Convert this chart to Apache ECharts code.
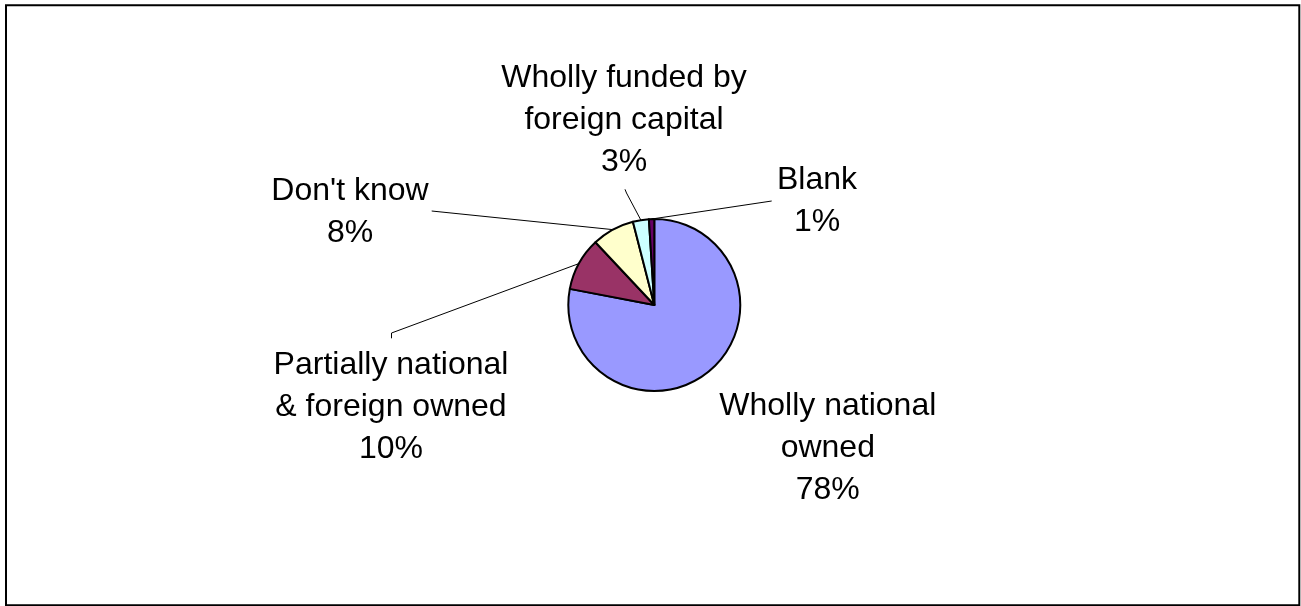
<!DOCTYPE html>
<html>
<head>
<meta charset="utf-8">
<title>Ownership of enterprises</title>
<script src="https://cdn.jsdelivr.net/npm/echarts@6/dist/echarts.min.js"></script>
<style>
  html, body { margin: 0; padding: 0; background: #ffffff; }
  #chart { width: 1301px; height: 606px; }
</style>
</head>
<body>
<div id="chart"></div>
<script>
// Ownership categories (line breaks are how the labels wrap)
const categories = [
  'Wholly national\nowned',
  'Partially national\n& foreign owned',
  "Don't know",
  'Wholly funded by\nforeign capital',
  'Blank'
];
// Share of respondents, in percent
const shares = [78, 10, 8, 3, 1];
const sliceColors = ['#9999FF', '#993366', '#FFFFCC', '#CCFFFF', '#660066'];

// Pie geometry (pixels)
const CX = 654.3, CY = 305, R = 86;

// Where each label block sits, relative to the pie centre,
// and the bend points of its leader line (last point = label end)
const labelPlacement = [
  { at: [173.5, 143.5], line: null },
  { at: [-263.3, 102.5], line: [[-262.8, 28], [-262.8, 33.3]] },
  { at: [-304.3, -93.3], line: [[-222.6, -94]] },
  { at: [-30.3, -185], line: [[-27.8, -112], [-29.3, -115.7]] },
  { at: [162.7, -104], line: [[117.4, -104]] }
];

const chart = echarts.init(document.getElementById('chart'), null, { renderer: 'canvas' });

const data = categories.map((name, i) => ({
  name: name,
  value: shares[i],
  itemStyle: { color: sliceColors[i] },
  labelLine: { show: labelPlacement[i].line !== null }
}));

chart.setOption({
  animation: false,
  backgroundColor: '#ffffff',
  graphic: [{
    type: 'rect',
    shape: { x: 6, y: 5.3, width: 1293.3, height: 600 },
    style: { fill: 'none', stroke: '#000000', lineWidth: 2 },
    silent: true
  }],
  series: [{
    type: 'pie',
    center: [CX, CY],
    radius: R,
    startAngle: 90,
    clockwise: true,
    avoidLabelOverlap: false,
    itemStyle: { borderColor: '#000000', borderWidth: 2 },
    label: {
      show: true,
      position: 'outside',
      formatter: p => p.name + '\n' + p.value + '%',
      fontFamily: '"Liberation Sans", Arial, sans-serif',
      fontSize: 32,
      lineHeight: 42,
      color: '#000000',
      align: 'center'
    },
    labelLine: {
      show: true,
      length: 20,
      length2: 20,
      lineStyle: { color: '#000000', width: 1 }
    },
    labelLayout: function (params) {
      const place = labelPlacement[params.dataIndex];
      const out = {
        x: CX + place.at[0],
        y: CY + place.at[1],
        align: 'center',
        verticalAlign: 'middle'
      };
      if (place.line && params.labelLinePoints) {
        const start = params.labelLinePoints[0];
        out.labelLinePoints = [start].concat(
          place.line.map(p => [CX + p[0], CY + p[1]])
        );
      }
      return out;
    },
    emphasis: { disabled: true },
    data: data
  }]
});
</script>
</body>
</html>
